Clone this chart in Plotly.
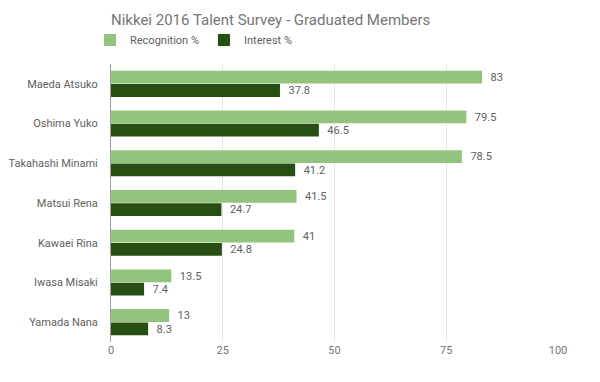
import plotly.graph_objects as go

names = ["Maeda Atsuko", "Oshima Yuko", "Takahashi Minami", "Matsui Rena",
         "Kawaei Rina", "Iwasa Misaki", "Yamada Nana"]
recognition = [83, 79.5, 78.5, 41.5, 41, 13.5, 13]
interest = [37.8, 46.5, 41.2, 24.7, 24.8, 7.4, 8.3]
x_ticks = [0, 25, 50, 75, 100]

pad = "\u00a0\u00a0"
fig = go.Figure()
fig.add_trace(go.Bar(
    y=names, x=recognition, name="Recognition %", orientation="h",
    marker=dict(color="#93c47d", line=dict(width=0)),
    text=[pad + f"{v:g}" for v in recognition],
    textposition="outside", textfont=dict(color="#616161", size=13),
    cliponaxis=False,
))
fig.add_trace(go.Bar(
    y=names, x=interest, name="Interest %", orientation="h",
    marker=dict(color="#274e13", line=dict(width=0)),
    text=[pad + f"{v:g}" for v in interest],
    textposition="outside", textfont=dict(color="#616161", size=13),
    cliponaxis=False,
))

fig.update_layout(
    width=600, height=382,
    barmode="group", bargap=0.33, bargroupgap=0.04,
    paper_bgcolor="white", plot_bgcolor="white",
    font=dict(family="Roboto, Arial, sans-serif", color="#616161", size=11),
    margin=dict(l=103, r=50, t=56, b=48, autoexpand=False),
    title=dict(text="Nikkei 2016 Talent Survey - Graduated Members",
               x=103/600, xanchor="left", y=1 - 12/382, yanchor="middle",
               font=dict(size=15, color="#757575")),
    legend=dict(orientation="h", x=-0.047, xanchor="left", y=(334 - 32) / 278,
                yanchor="middle",
                font=dict(size=11, color="#616161"), traceorder="normal",
                itemwidth=30),
    xaxis=dict(range=[0, 100], tickvals=x_ticks, ticktext=[str(t) for t in x_ticks],
               showgrid=True, gridcolor="#e6e6e6", zeroline=False,
               showline=False, ticks="", automargin=False,
               tickfont=dict(size=11, color="#757575")),
    yaxis=dict(categoryorder="array", categoryarray=names, autorange="reversed",
               showline=True, linecolor="#9e9e9e", ticks="", automargin=False,
               ticklabelstandoff=10,
               tickfont=dict(size=11, color="#616161")),
)

fig.write_html("out.html")
